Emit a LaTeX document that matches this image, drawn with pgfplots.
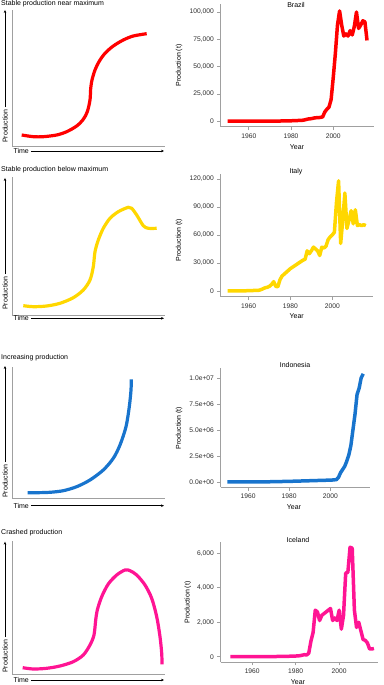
\documentclass[border=0pt]{standalone}
\usepackage{pgfplots}
\pgfplotsset{compat=1.18}
\usepackage{pgfplotstable}
\usetikzlibrary{arrows.meta}
\usepackage{fontspec}
\setmainfont{Liberation Sans}
\definecolor{cred}{RGB}{255,0,0}
\definecolor{cyellow}{RGB}{255,215,0}
\definecolor{cblue}{RGB}{24,116,205}
\definecolor{cpink}{RGB}{255,20,147}
\definecolor{axgray}{RGB}{160,160,160}
\definecolor{txgray}{RGB}{45,45,45}

\pgfplotstableread{
year prod
1950 0
1955 0
1960 0
1965 100
1970 100
1975 200
1980 400
1985 800
1986 1000
1987 1500
1988 2000
1989 2200
1990 2500
1991 3000
1992 3200
1993 3300
1994 3500
1995 4000
1996 8500
1997 11000
1998 13000
1999 20000
2000 40000
2001 62000
2002 88000
2003 101000
2004 88000
2005 78000
2006 80000
2007 78000
2008 83000
2009 79000
2010 87000
2011 100000
2012 85000
2013 88000
2014 92000
2015 91000
2016 74000
}\brazil

\pgfplotstableread{
year prod
1950 0
1955 100
1960 300
1965 800
1966 1500
1967 2500
1968 3500
1969 4000
1970 5000
1971 7000
1972 10000
1973 5000
1974 4500
1975 12000
1976 16000
1977 18000
1978 20000
1979 22000
1980 24000
1981 25500
1982 27000
1983 28500
1984 30000
1985 31500
1986 33000
1987 34000
1988 43000
1989 40000
1990 43000
1991 47000
1992 45000
1993 43000
1994 38000
1995 47000
1996 46000
1997 48000
1998 55000
1999 58000
2000 60000
2001 63000
2002 95000
2003 118000
2004 51000
2005 76000
2006 105000
2007 67000
2008 76000
2009 86000
2010 72000
2011 87000
2012 70000
2013 71000
2014 70000
2015 71000
2016 70000
}\italy

\pgfplotstableread{
year prod
1950 5000
1960 10000
1970 20000
1980 60000
1990 120000
2000 180000
2001 190000
2002 210000
2003 230000
2004 450000
2005 900000
2006 1200000
2007 1500000
2008 2000000
2009 2600000
2010 3500000
2011 5000000
2012 6500000
2013 8400000
2014 9000000
2015 10000000
2016 10400000
}\indonesia

\pgfplotstableread{
year prod
1950 0
1960 0
1970 10
1978 30
1980 40
1982 60
1984 120
1985 100
1986 200
1987 900
1988 1400
1989 2700
1990 2600
1991 2100
1992 2400
1993 2500
1994 2600
1995 2700
1996 2800
1997 2100
1998 2250
1999 2100
2000 2700
2001 1600
2002 2400
2003 4850
2004 4900
2005 6350
2006 6300
2007 2700
2008 1700
2009 2000
2010 1500
2011 1000
2012 950
2013 800
2014 450
2015 450
2016 480
}\iceland

\pgfplotsset{
  concept/.style={scale only axis, axis lines=left, axis line style={-, draw=axgray, line width=0.6pt},
    xtick=\empty, ytick=\empty, clip=false},
  real/.style={scale only axis, axis lines=left, axis line style={-, draw=axgray, line width=0.6pt},
    tick align=outside, major tick length=3.3pt, tick style={draw=axgray, line width=0.6pt},
    ticklabel style={font=\fontsize{6.7}{7}\selectfont, text=txgray},
    scaled y ticks=false,
    xtick={1960,1980,2000}, xticklabels={1960,1980,2000},
    xmin=1946.7, xmax=2019.3, clip=false},
  cline/.style={line width=3.2pt, no marks, smooth},
  dline/.style={line width=3.5pt, no marks, line join=round},
}
\tikzset{arr/.style={line width=0.5pt, -{Stealth[length=3pt,width=2.6pt]}},
  ttl/.style={font=\fontsize{7}{8}\selectfont, inner sep=0pt},
  lbl/.style={font=\fontsize{7}{8}\selectfont, inner sep=0pt}}

\begin{document}
\begin{tikzpicture}[x=1pt,y=1pt]
\useasboundingbox (0,0) rectangle (383,685);

% ---------------- Left conceptual panels ----------------
% Panel 1
\begin{axis}[concept, at={(12.2pt,538.5pt)}, anchor=south west, width=152.8pt, height=136.5pt,
  xmin=12.2, xmax=165, ymin=-146.5, ymax=-10]
\addplot[cline, cred] coordinates {(21.7,-135) (33.3,-136.7) (43.3,-136.7) (56.7,-135) (66.7,-131.7) (76.7,-126) (83.3,-119.3) (87.3,-111.7) (90,-100) (90.7,-88.3) (92,-80) (95,-70) (99,-61.7) (105,-53.3) (113.3,-46) (123.3,-40) (133.3,-36) (146.7,-33.7)};
\end{axis}
\node[ttl, anchor=west] at (1,681) {Stable production near maximum};
\node[lbl, rotate=90, anchor=west] (p1) at (5,542) {Production};
\draw[arr] ([yshift=2pt]p1.east) -- (5,675);
\node[lbl, anchor=west] (t1) at (13.3,534) {Time};
\draw[arr] ([xshift=2pt]t1.east) -- (164,534);

% Panel 2
\begin{axis}[concept, at={(12.3pt,370pt)}, anchor=south west, width=152.7pt, height=138.3pt,
  xmin=12.3, xmax=165, ymin=-315, ymax=-176.7]
\addplot[cline, cyellow] coordinates {(23.3,-305.7) (33.3,-306.7) (46.7,-306) (60,-303.3) (73.3,-297.7) (83.3,-290) (90,-280) (93.3,-266.7) (95,-251.7) (98.3,-240) (103.3,-228.3) (110,-218.3) (118.3,-211.7) (128.3,-207.3) (131.7,-208.3) (136.7,-215) (143.3,-225.7) (148.3,-228.3) (156.7,-228.3)};
\end{axis}
\node[ttl, anchor=west] at (1,515) {Stable production below maximum};
\node[lbl, rotate=90, anchor=west] (p2) at (5,375) {Production};
\draw[arr] ([yshift=2pt]p2.east) -- (5,507);
\node[lbl, anchor=west] (t2) at (13.3,366.7) {Time};
\draw[arr] ([xshift=2pt]t2.east) -- (164,366.7);

% Panel 3
\begin{axis}[concept, at={(12.3pt,186.7pt)}, anchor=south west, width=152.7pt, height=131.6pt,
  xmin=12.3, xmax=165, ymin=-498.3, ymax=-366.7]
\addplot[cline, cblue] coordinates {(27.7,-492.7) (36.7,-492.7) (50,-492.3) (63.3,-490.7) (76.7,-486.7) (90,-480) (103.3,-470) (113.3,-458.3) (120,-445) (126,-426.7) (129.3,-406.7) (131,-390) (131.3,-379.3)};
\end{axis}
\node[ttl, anchor=west] at (1,327) {Increasing production};
\node[lbl, rotate=90, anchor=west] (p3) at (5,187) {Production};
\draw[arr] ([yshift=2pt]p3.east) -- (5,319);
\node[lbl, anchor=west] (t3) at (13.3,179.3) {Time};
\draw[arr] ([xshift=2pt]t3.east) -- (164,179.3);

% Panel 4
\begin{axis}[concept, at={(12.3pt,11pt)}, anchor=south west, width=152.7pt, height=133.3pt,
  xmin=12.3, xmax=165, ymin=-674, ymax=-540.7]
\addplot[cline, cpink] coordinates {(22.7,-667.7) (33.3,-669) (46.7,-668.3) (60,-666) (73.3,-661.7) (83.3,-655) (90,-645) (94,-635) (95.7,-620) (97.3,-610) (101.7,-596.7) (108.3,-584) (116.7,-575) (125,-570) (130,-570.7) (136.7,-575) (145,-585) (151.7,-598.3) (156.7,-616.7) (160,-636.7) (161.7,-653.3) (162,-664.3)};
\end{axis}
\node[ttl, anchor=west] at (1,152) {Crashed production};
\node[lbl, rotate=90, anchor=west] (p4) at (5,12) {Production};
\draw[arr] ([yshift=2pt]p4.east) -- (5,143.3);
\node[lbl, anchor=west] (t4) at (13.3,5) {Time};
\draw[arr] ([xshift=2pt]t4.east) -- (164,5);

% ---------------- Right data panels ----------------
% Brazil
\begin{axis}[real, at={(220.7pt,558.2pt)}, anchor=south west, width=153.3pt, height=122.5pt,
  ymin=-5100, ymax=107100, ytick={0,25000,50000,75000,100000},
  yticklabels={0,{25,000},{50,000},{75,000},{100,000}}]
\addplot[dline, cred] table[x=year, y=prod] {\brazil};
\end{axis}
\node[lbl] at (296,680) {Brazil};
\node[lbl, rotate=90] at (179,619.5) {Production (t)};
\node[lbl] at (297,538.3) {Year};

% Italy
\begin{axis}[real, at={(220.7pt,388.45pt)}, anchor=south west, width=152pt, height=122.2pt,
  ymin=-5950, ymax=124950, ytick={0,30000,60000,90000,120000},
  yticklabels={0,{30,000},{60,000},{90,000},{120,000}}]
\addplot[dline, cyellow] table[x=year, y=prod] {\italy};
\end{axis}
\node[lbl] at (296,513.3) {Italy};
\node[lbl, rotate=90] at (179,445) {Production (t)};
\node[lbl] at (296.7,369.3) {Year};

% Indonesia
\begin{axis}[real, at={(220.7pt,197.6pt)}, anchor=south west, width=149.3pt, height=119pt,
  ymin=-520000, ymax=10920000, ytick={0,2500000,5000000,7500000,10000000},
  yticklabels={0.0e+00,2.5e+06,5.0e+06,7.5e+06,1.0e+07}]
\addplot[dline, cblue] table[x=year, y=prod] {\indonesia};
\end{axis}
\node[lbl] at (295,320) {Indonesia};
\node[lbl, rotate=90] at (179,257) {Production (t)};
\node[lbl] at (294,178.3) {Year};

% Iceland
\begin{axis}[real, at={(220.7pt,22.8pt)}, anchor=south west, width=157.6pt, height=120.4pt,
  xmin=1945.5, xmax=2018, ymin=-317.5, ymax=6667.5, ytick={0,2000,4000,6000},
  yticklabels={0,{2,000},{4,000},{6,000}}]
\addplot[dline, cpink] table[x=year, y=prod] {\iceland};
\end{axis}
\node[lbl] at (298,145) {Iceland};
\node[lbl, rotate=90] at (187.7,82.5) {Production (t)};
\node[lbl] at (298,2.7) {Year};
\end{tikzpicture}
\end{document}
